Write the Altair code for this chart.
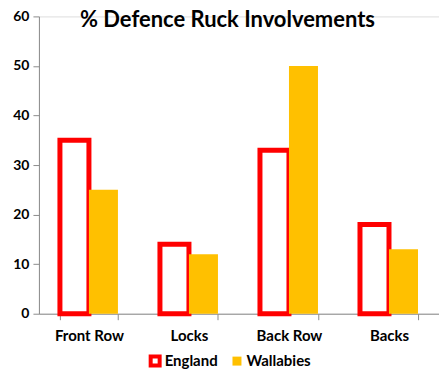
import altair as alt
import pandas as pd

categories = ["Front Row", "Locks", "Back Row", "Backs"]
england = [35, 14, 33, 18]
wallabies = [25, 12, 50, 13]
teams = ["England", "Wallabies"]

rows = []
for i, c in enumerate(categories):
    rows.append({"pos": c, "team": "England", "value": england[i]})
    rows.append({"pos": c, "team": "Wallabies", "value": wallabies[i]})
df = pd.DataFrame(rows)

FONT = "Lato"

bars = alt.Chart(df).mark_bar(strokeJoin="miter").encode(
    x=alt.X("pos:N", sort=categories, title=None,
            scale=alt.Scale(paddingInner=0.42, paddingOuter=0.21),
            axis=alt.Axis(labelAngle=0, tickBand="extent", labelFont=FONT,
                          labelFontWeight="bold", labelFontSize=15, labelColor="black",
                          domainColor="#8c8c8c", tickColor="#8c8c8c", tickSize=6,
                          labelPadding=9)),
    xOffset=alt.XOffset("team:N", sort=teams),
    y=alt.Y("value:Q", title=None,
            scale=alt.Scale(domain=[0, 60]),
            axis=alt.Axis(values=[0, 10, 20, 30, 40, 50, 60], grid=False, labelFont=FONT,
                          labelFontWeight="bold", labelFontSize=14, labelColor="black",
                          domainColor="#8c8c8c", tickColor="#8c8c8c", tickSize=6,
                          labelPadding=4)),
    fill=alt.Fill("team:N", sort=teams,
                  scale=alt.Scale(domain=teams, range=["#FFFFFF", "#FFC000"]),
                  legend=alt.Legend(title=None, orient="none", direction="horizontal",
                                    legendX=109, legendY=338, symbolType="square",
                                    symbolSize=81, symbolStrokeWidth=4,
                                    labelFont=FONT, labelFontWeight="bold",
                                    labelFontSize=15, labelColor="black",
                                    columnPadding=6, labelOffset=2)),
    stroke=alt.Stroke("team:N", sort=teams,
                      scale=alt.Scale(domain=teams, range=["#FF0000", "transparent"])),
    strokeWidth=alt.condition("datum.team == 'England'", alt.value(5), alt.value(0)),
    order=alt.Order("team:N"),
)

title = alt.Chart(pd.DataFrame({"t": ["% Defence Ruck Involvements"]})).mark_text(
    font=FONT, fontWeight="bold", fontSize=22, color="black", align="center", baseline="alphabetic"
).encode(x=alt.value(189), y=alt.value(11), text="t:N")

chart = alt.layer(bars, title).properties(
    width=401, height=298,
    autosize=alt.AutoSizeParams(type="none"),
    padding={"left": 31, "top": 8, "right": 0, "bottom": 56},
).configure_view(stroke=None).configure(background="white")

chart.save("out.html", embed_options={"renderer": "svg", "actions": False})
